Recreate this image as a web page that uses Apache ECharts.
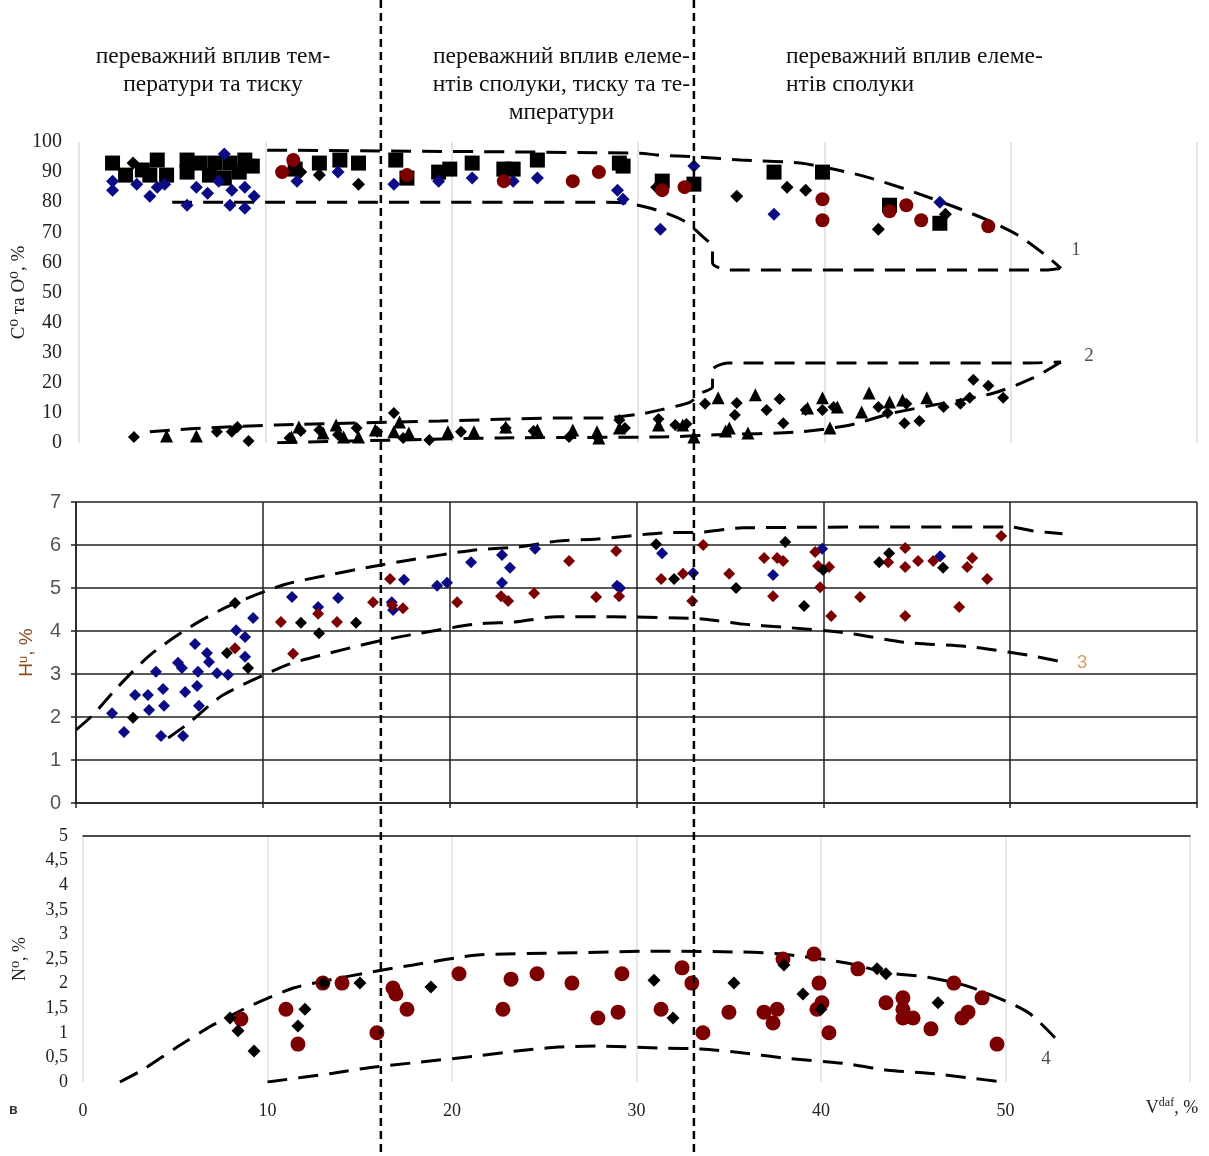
<!DOCTYPE html>
<html>
<head>
<meta charset="utf-8">
<script src="https://cdn.jsdelivr.net/npm/echarts@6/dist/echarts.min.js"></script>
<style>
html,body{margin:0;padding:0;background:#fff;}
#main{width:1209px;height:1156px;}
</style>
</head>
<body>
<div id="main"></div>
<script>
// ---------- tick settings ----------
const xTicks = [0, 10, 20, 30, 40, 50, 60];
const cTicks = [0, 100, 10];
const hTicks = [0, 7, 1];
const nTicks = [0, 5, 0.5];

// ---------- zone annotations ----------
const zoneBounds = [16.2, 33.0];
const zoneTexts = [
  'переважний вплив тем-\nператури та тиску',
  'переважний вплив елеме-\nнтів сполуки, тиску та те-\nмператури',
  'переважний вплив елеме-\nнтів сполуки'
];

// ---------- Panel 1: C and O ----------
const cSquares = [[1.8,93],[2.5,89],[3.4,90.7],[4.2,94],[3.8,89],[4.7,89],[5.8,94],[5.8,90],[6.5,93],[7.0,89],[7.3,93],[8.1,93],[7.8,88],[8.9,94],[9.3,92],[8.6,90],[11.6,91],[12.9,93],[14.0,94],[15.0,93],[17.0,94],[17.6,88],[19.3,90],[19.9,91],[21.1,93],[22.8,91],[23.3,91],[24.6,94],[29.0,93],[29.2,92],[31.3,87],[33.0,86],[37.3,90],[39.9,90],[43.5,79],[46.2,73]];
const cBlueDiamonds = [[1.8,84],[1.8,87],[3.1,86],[3.8,82],[4.2,85],[4.6,86],[5.8,79],[6.3,85],[6.9,83],[7.5,87],[7.8,96],[8.1,79],[8.2,84],[8.9,78],[8.9,85],[9.4,82],[11.7,87],[13.9,90],[16.9,86],[19.3,87],[21.1,88],[23.3,87],[24.6,88],[28.9,84],[29.2,81],[31.2,71],[33.0,92],[37.3,76],[46.2,80]];
const cRedCircles = [[11.5,94],[10.9,90],[17.6,89],[22.8,87],[26.5,87],[27.9,90],[31.3,84],[32.5,85],[39.9,81],[39.9,74],[43.5,77],[44.4,79],[45.2,74],[48.8,72]];
const cBlackDiamonds = [[2.9,93],[11.9,90],[12.9,89],[15.0,86],[31.0,85],[35.3,82],[38.0,85],[39.0,84],[39.9,81],[42.9,71],[43.5,79],[46.5,76]];
const oBlackDiamonds = [[2.95,2],[8.2,3.7],[8.5,5.3],[7.4,3.7],[9.1,0.7],[11.3,1.7],[11.9,4],[12.9,4.3],[13.9,2.7],[14.9,5],[16.0,3.7],[16.9,10],[17.4,1.7],[18.8,1],[20.5,3.7],[22.9,5],[24.4,4],[26.3,2],[27.8,2],[29.0,7.6],[29.3,5],[31.1,8],[32.0,6],[32.6,6.3],[33.6,13],[35.3,13.3],[36.9,11],[37.6,14.6],[37.8,6.6],[35.2,9.3],[39.0,11],[39.9,11],[40.5,12],[42.9,12],[43.4,10],[44.3,6.6],[45.1,7.3],[44.4,13],[46.4,12],[47.3,13],[47.8,15],[48.0,21],[48.8,19],[49.6,15]];
const oTriangles = [[4.7,2.3],[6.3,2.3],[11.4,2],[11.8,5.3],[13.1,3.3],[13.8,6],[14.2,2],[15.0,2],[15.9,4.3],[16.9,3.7],[17.2,7],[17.7,3.3],[19.8,3.7],[21.2,3.7],[22.9,5.3],[24.6,4.3],[26.5,4.3],[27.8,3.7],[27.9,1.7],[29.0,5],[31.1,6],[32.4,6],[33.0,2],[34.3,15],[36.3,16],[34.9,5],[35.9,3.3],[34.7,4],[39.9,15],[39.1,11.6],[40.7,12],[40.3,5],[42.0,10.3],[42.4,16.6],[43.5,13.6],[44.2,14.3],[45.5,15]];
const env1Upper = [[10.1,97.3],[30.1,96.3],[31.0,95.7],[33.3,95],[35.5,94],[38.7,93],[41.9,89],[44.8,83.4],[48.4,75],[50.4,69],[52,61.8],[52.7,58]];
const env1Lower = [[5.0,80],[28.3,80],[29.4,79.7],[31.0,77.4],[32.4,74],[33.4,69],[34.0,64.8],[34.0,59.8],[34.8,57.5],[52,57.5],[52.7,58]];
const env2Upper = [[3.8,3.7],[6.0,4.7],[10.6,6],[19.4,7.3],[25.8,8.3],[28.1,8.3],[30.1,9.6],[31.2,11],[32.8,13.6],[33.4,16.6],[34.0,18.6],[34.0,24.3],[34.8,26.6],[50.9,26.6],[52.7,26.9]];
const env2Lower = [[52.7,26.9],[51.2,21.6],[49.1,16.6],[46.2,13],[43.7,10],[41.4,6],[38.7,3.7],[34.2,2.7],[31.2,2],[22.6,1.7],[10.1,0]];
const labels12 = [[53.5,64,'1'],[54.2,29,'2']];

// ---------- Panel 2: H ----------
const hBlue = [[1.93,2.09],[2.57,1.65],[3.16,2.51],[3.85,2.51],[3.91,2.16],[4.28,3.05],[4.66,2.65],[4.71,2.26],[4.55,1.56],[5.46,3.26],[5.67,3.14],[5.84,2.58],[5.73,1.56],[6.37,3.70],[6.48,2.72],[6.53,3.05],[6.58,2.26],[7.01,3.49],[7.12,3.28],[7.55,3.02],[8.14,2.98],[8.57,4.02],[9.05,3.86],[9.05,3.40],[9.48,4.30],[11.56,4.79],[12.96,4.56],[14.03,4.77],[16.9,4.67],[16.97,4.49],[17.56,5.19],[19.33,5.05],[19.86,5.12],[21.15,5.60],[22.8,5.77],[23.23,5.47],[22.8,5.12],[24.57,5.91],[28.96,5.05],[29.12,5.00],[31.37,5.81],[33.03,5.35],[37.31,5.30],[39.94,5.91],[46.25,5.74]];
const hRed = [[8.51,3.60],[10.97,4.21],[11.62,3.47],[12.96,4.40],[13.97,4.21],[15.9,4.67],[16.81,5.21],[16.92,4.60],[17.5,4.53],[20.4,4.67],[22.75,4.81],[23.13,4.70],[24.52,4.88],[26.39,5.63],[27.84,4.79],[28.91,5.86],[29.07,4.81],[31.32,5.21],[32.49,5.33],[32.98,4.70],[33.57,6.00],[34.96,5.33],[36.83,5.70],[37.53,5.70],[37.85,5.63],[37.31,4.81],[39.56,5.84],[39.72,5.51],[40.31,5.49],[39.83,5.02],[40.42,4.35],[41.97,4.79],[43.47,5.60],[44.38,5.93],[44.38,5.49],[45.07,5.63],[44.38,4.35],[45.88,5.63],[47.27,4.56],[47.7,5.49],[47.97,5.70],[48.77,5.21],[49.52,6.21]];
const hBlack = [[3.05,1.98],[8.51,4.65],[8.08,3.49],[9.21,3.14],[12.04,4.19],[13.01,3.95],[14.99,4.19],[31.05,6.02],[32.01,5.21],[35.33,5.00],[37.96,6.07],[38.97,4.58],[39.99,5.42],[42.99,5.60],[43.52,5.81],[46.41,5.47]];
const env3Upper = [[0,1.70],[0.91,2.05],[2.09,2.63],[3.96,3.44],[6.1,4.09],[8.08,4.56],[11.08,5.07],[13.49,5.30],[15.74,5.49],[17.88,5.65],[21.25,5.88],[23.6,5.95],[25.75,6.09],[27.9,6.14],[31.37,6.28],[33.5,6.30],[35.7,6.40],[50,6.42],[51.2,6.33],[52.8,6.26]];
const env3Lower = [[4.93,1.51],[6.1,1.88],[7.87,2.51],[11.3,3.21],[13.6,3.49],[15.74,3.72],[17.9,3.91],[21.4,4.16],[23.5,4.21],[25.75,4.33],[28.7,4.33],[33.5,4.28],[35.7,4.16],[37.85,4.09],[41.3,3.95],[44.3,3.74],[47.9,3.63],[51.2,3.42],[52.8,3.28]];
const labels3 = [[53.85,3.26,'3']];

// ---------- Panel 3: N ----------
const nRed = [[8.56,1.28],[11.0,1.48],[11.65,0.77],[13.0,2.01],[14.04,2.01],[15.93,1.00],[16.8,1.91],[16.96,1.79],[17.56,1.48],[20.38,2.20],[22.76,1.48],[23.2,2.09],[24.61,2.20],[26.5,2.01],[27.91,1.30],[29.0,1.42],[29.21,2.20],[31.33,1.48],[32.47,2.32],[33.0,2.01],[33.6,1.00],[35.01,1.42],[36.91,1.42],[37.62,1.48],[37.4,1.20],[37.94,2.50],[39.62,2.60],[39.89,2.01],[40.05,1.61],[39.78,1.48],[40.43,1.00],[42.0,2.30],[43.52,1.61],[44.44,1.71],[44.44,1.48],[44.44,1.30],[44.99,1.30],[45.96,1.08],[47.2,2.01],[47.64,1.30],[47.97,1.42],[48.73,1.71],[49.54,0.77]];
const nBlack = [[7.97,1.30],[8.40,1.04],[9.27,0.63],[11.65,1.14],[12.03,1.48],[13.06,2.01],[15.01,2.01],[18.86,1.93],[30.95,2.07],[31.98,1.30],[35.28,2.01],[37.99,2.38],[39.02,1.79],[40.0,1.48],[43.04,2.30],[43.52,2.20],[46.34,1.61]];
const env4Upper = [[2.0,0],[3.2,0.24],[5.1,0.71],[7.05,1.16],[9.2,1.57],[11.4,1.91],[13.3,2.07],[15.7,2.24],[17.9,2.38],[21.4,2.58],[25.7,2.62],[31.4,2.66],[35.8,2.64],[37.9,2.60],[41.4,2.42],[43.6,2.22],[45.8,2.13],[48.1,1.93],[51.2,1.42],[52.8,0.85]];
const env4Lower = [[10.0,0],[13.55,0.18],[15.7,0.30],[17.9,0.39],[21.35,0.53],[23.5,0.63],[25.75,0.71],[27.9,0.73],[31.4,0.69],[33.5,0.67],[35.8,0.59],[37.9,0.49],[41.4,0.37],[43.6,0.24],[45.8,0.18],[48.1,0.08],[49.9,0]];
const labels4 = [[52.2,0.47,'4']];

// ---------- styles ----------
const SERIF = '"Liberation Serif","DejaVu Serif",serif';
const SANS = '"Liberation Sans","DejaVu Sans",sans-serif';
const BLUE = '#0b0b86';
const RED = '#7d0000';
const BLK = '#000000';
const DASH = [20, 11];

const chart = echarts.init(document.getElementById('main'), null, {renderer: 'canvas'});

function scatter(data, symbol, size, color, xi, yi, z) {
  return {type: 'scatter', data: data, symbol: symbol, symbolSize: size, xAxisIndex: xi, yAxisIndex: yi,
    itemStyle: {color: color, opacity: 1}, z: z || 3, silent: true, animation: false};
}
function env(data, xi, yi) {
  return {type: 'line', data: data, xAxisIndex: xi, yAxisIndex: yi, showSymbol: false, symbol: 'none', smooth: 0.25,
    lineStyle: {color: BLK, width: 3, type: DASH}, z: 2, silent: true, animation: false};
}
function labelSeries(data, xi, yi, color, font) {
  return {type: 'scatter', data: data.map(d => ({value: [d[0], d[1]], name: d[2]})), xAxisIndex: xi, yAxisIndex: yi,
    symbolSize: 0, silent: true, animation: false,
    label: {show: true, position: 'inside', formatter: p => p.name, color: color, fontFamily: font, fontSize: 19}};
}

const xBase = {type: 'value', min: xTicks[0], max: xTicks[xTicks.length - 1], interval: 10};

const option = {
  animation: false,
  backgroundColor: '#fff',
  grid: [
    {left: 79, top: 142, width: 1118, height: 301, containLabel: false, outerBoundsMode: 'none'},
    {left: 76, top: 502, width: 1121, height: 301, containLabel: false, outerBoundsMode: 'none'},
    {left: 83, top: 836, width: 1107, height: 246, containLabel: false, outerBoundsMode: 'none'}
  ],
  xAxis: [
    Object.assign({}, xBase, {gridIndex: 0, axisLine: {show: false}, axisTick: {show: false}, axisLabel: {show: false},
      splitLine: {show: true, lineStyle: {color: '#dcdcdc', width: 1.5}}}),
    Object.assign({}, xBase, {gridIndex: 1, axisLine: {show: true, lineStyle: {color: '#222', width: 1.5}},
      axisTick: {show: true, length: 5, lineStyle: {color: '#222', width: 1.5}}, axisLabel: {show: false},
      splitLine: {show: true, lineStyle: {color: '#222', width: 1.5}}}),
    Object.assign({}, xBase, {gridIndex: 2, axisLine: {show: false}, axisTick: {show: false},
      axisLabel: {show: true, margin: 20, fontFamily: SERIF, fontSize: 18, color: '#222',
        formatter: v => (v === 60 ? '' : String(v))},
      splitLine: {show: true, lineStyle: {color: '#e2e2e2', width: 1.5}}}),
    Object.assign({}, xBase, {gridIndex: 2, position: 'top', axisLine: {show: true, lineStyle: {color: '#111', width: 1.5}},
      axisTick: {show: false}, axisLabel: {show: false}, splitLine: {show: false}})
  ],
  yAxis: [
    {type: 'value', gridIndex: 0, min: cTicks[0], max: cTicks[1], interval: cTicks[2],
      axisLine: {show: false}, axisTick: {show: false}, splitLine: {show: false},
      axisLabel: {fontFamily: SERIF, fontSize: 20, color: '#222', margin: 17},
      name: 'C⁰ та O⁰, %', nameLocation: 'middle', nameGap: 50, nameRotate: 90, nameMoveOverlap: false,
      nameTextStyle: {fontFamily: SERIF, fontSize: 19, color: '#222'}},
    {type: 'value', gridIndex: 1, min: hTicks[0], max: hTicks[1], interval: hTicks[2],
      axisLine: {show: true, lineStyle: {color: '#222', width: 1.5}},
      axisTick: {show: true, length: 5, lineStyle: {color: '#222', width: 1.5}},
      splitLine: {show: true, lineStyle: {color: '#222', width: 1.5}},
      axisLabel: {fontFamily: SANS, fontSize: 20, color: '#555', margin: 15},
      name: 'Hᵘ, %', nameLocation: 'middle', nameGap: 40, nameRotate: 90, nameMoveOverlap: false,
      nameTextStyle: {fontFamily: SANS, fontSize: 19, color: '#8a4a1c'}},
    {type: 'value', gridIndex: 2, min: nTicks[0], max: nTicks[1], interval: nTicks[2],
      axisLine: {show: false}, axisTick: {show: false}, splitLine: {show: false},
      axisLabel: {fontFamily: SERIF, fontSize: 18, color: '#222', margin: 15,
        formatter: v => String(v).replace('.', ',')},
      name: 'N⁰, %', nameLocation: 'middle', nameGap: 54, nameRotate: 90, nameMoveOverlap: false,
      nameTextStyle: {fontFamily: SERIF, fontSize: 18, color: '#222'}}
  ],
  series: [
    env(env1Upper, 0, 0), env(env1Lower, 0, 0), env(env2Upper, 0, 0), env(env2Lower, 0, 0),
    scatter(cSquares, 'rect', 15, BLK, 0, 0, 3),
    scatter(cBlueDiamonds, 'diamond', 13, BLUE, 0, 0, 4),
    scatter(cRedCircles, 'circle', 14, RED, 0, 0, 5),
    scatter(cBlackDiamonds, 'diamond', 13, BLK, 0, 0, 4),
    scatter(oBlackDiamonds, 'diamond', 12, BLK, 0, 0, 4),
    scatter(oTriangles, 'triangle', 13, BLK, 0, 0, 4),
    labelSeries(labels12, 0, 0, '#222', SERIF),
    env(env3Upper, 1, 1), env(env3Lower, 1, 1),
    scatter(hBlue, 'diamond', 12, BLUE, 1, 1, 4),
    scatter(hRed, 'diamond', 12, RED, 1, 1, 4),
    scatter(hBlack, 'diamond', 12, BLK, 1, 1, 4),
    labelSeries(labels3, 1, 1, '#c98a3a', SANS),
    env(env4Upper, 2, 2), env(env4Lower, 2, 2),
    scatter(nRed, 'circle', 15, RED, 2, 2, 4),
    scatter(nBlack, 'diamond', 13, BLK, 2, 2, 5),
    labelSeries(labels4, 2, 2, '#222', SERIF)
  ]
};
chart.setOption(option);

// annotation graphics computed from axis scales
const zx0 = chart.convertToPixel({xAxisIndex: 0}, zoneBounds[0]);
const zx1 = chart.convertToPixel({xAxisIndex: 0}, zoneBounds[1]);
const left0 = chart.convertToPixel({xAxisIndex: 0}, 0);
const endX = chart.convertToPixel({xAxisIndex: 2}, 58.8);
const baseY = chart.convertToPixel({yAxisIndex: 2}, 0);
const txtStyle = {fontFamily: SERIF, fontSize: 23.5, fill: '#111', lineHeight: 28};

chart.setOption({
  graphic: [
    {type: 'line', shape: {x1: zx0, y1: 0, x2: zx0, y2: 1156}, z: 100,
      style: {stroke: '#000', lineWidth: 2.5, lineDash: [8, 5]}},
    {type: 'line', shape: {x1: zx1, y1: 0, x2: zx1, y2: 1156}, z: 100,
      style: {stroke: '#000', lineWidth: 2.5, lineDash: [8, 5]}},
    {type: 'text', x: (left0 + zx0) / 2 - 17, y: 43, z: 100,
      style: Object.assign({text: zoneTexts[0], textAlign: 'center'}, txtStyle)},
    {type: 'text', x: (zx0 + zx1) / 2 + 24, y: 43, z: 100,
      style: Object.assign({text: zoneTexts[1], textAlign: 'center'}, txtStyle)},
    {type: 'text', x: zx1 + 92, y: 43, z: 100,
      style: Object.assign({text: zoneTexts[2], textAlign: 'left'}, txtStyle)},
    {type: 'text', x: 9, y: baseY + 21, z: 100,
      style: {text: 'в', fontFamily: SANS, fontSize: 14, fontWeight: 'bold', fill: '#333'}},
    {type: 'text', x: endX - 22, y: baseY + 15, z: 100,
      style: {text: '{m|V}{s|daf}{m|, %}', rich: {
        m: {fontFamily: SERIF, fontSize: 18, fill: '#222', verticalAlign: 'bottom'},
        s: {fontFamily: SERIF, fontSize: 12, fill: '#222', verticalAlign: 'top', padding: [0, 0, 8, 0]}}}}
  ]
});
</script>
</body>
</html>
